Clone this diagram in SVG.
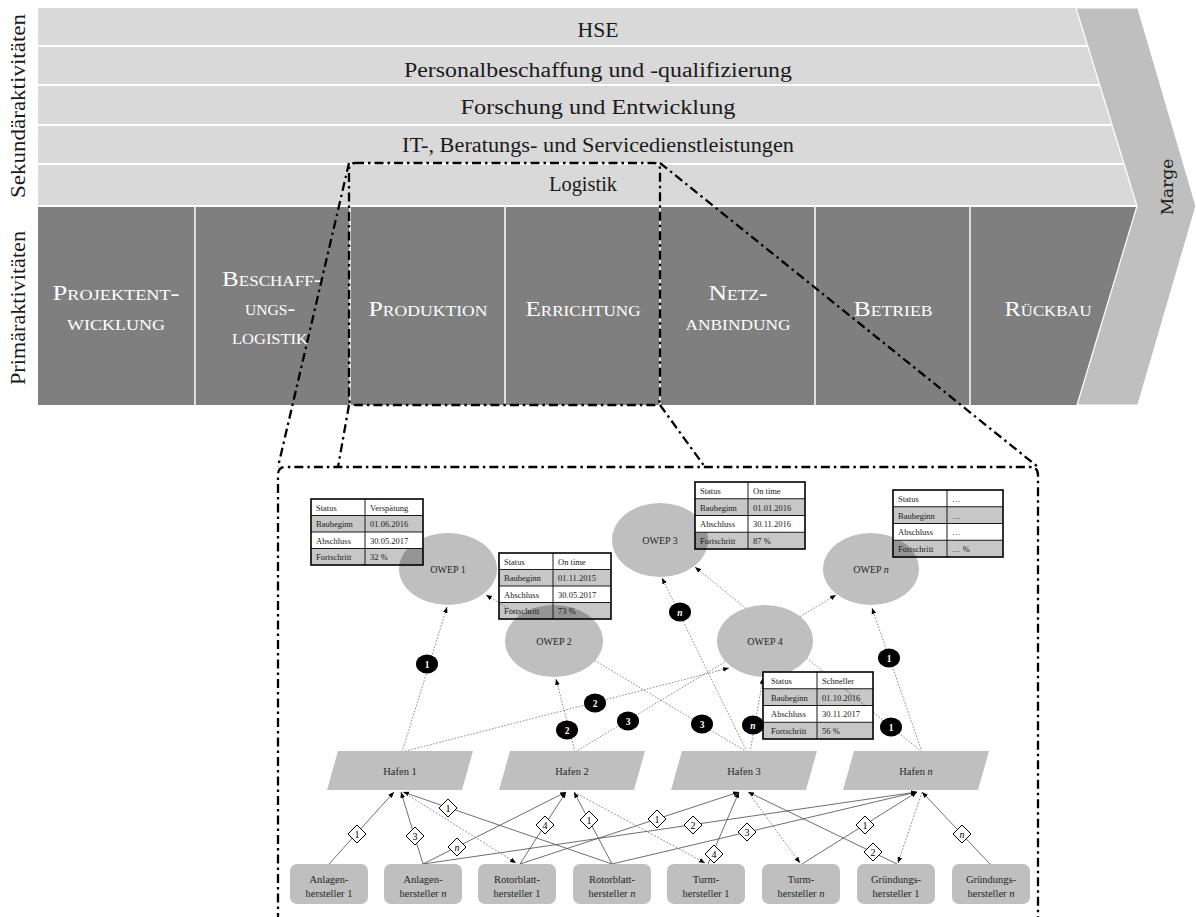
<svg xmlns="http://www.w3.org/2000/svg" width="1196" height="917" viewBox="0 0 1196 917">
  <style>
    .sec { font-family: "Liberation Serif", serif; font-size: 20px; fill: #1a1a1a; text-anchor: middle; }
    .side { font-family: "Liberation Serif", serif; font-size: 20px; fill: #1a1a1a; text-anchor: middle; }
    .prim { font-family: "Liberation Serif", serif; font-size: 22px; fill: #ffffff; text-anchor: middle; font-variant: small-caps; }
    .zoom { fill: none; stroke: #000; stroke-width: 2.3; stroke-dasharray: 9 4 2.5 4; }
    .flow { fill: none; stroke: #6e6e6e; stroke-width: 0.8; stroke-dasharray: 1.6 1.6; }
    .sup { fill: none; stroke: #4a4a4a; stroke-width: 0.8; }
    .ret { fill: none; stroke: #7a7a7a; stroke-width: 0.8; stroke-dasharray: 2 1.5; }
    .owep { fill: #bfbfbf; }
    .lbl { font-family: "Liberation Serif", serif; font-size: 10px; fill: #262626; text-anchor: middle; }
    .nlbl { font-family: "Liberation Serif", serif; font-size: 10.5px; fill: #262626; text-anchor: middle; }
    .badge { fill: #000; }
    .btxt { font-family: "Liberation Serif", serif; font-size: 9.5px; fill: #fff; text-anchor: middle; font-weight: bold; }
    .dia { fill: #fff; stroke: #000; stroke-width: 1; }
    .dtxt { font-family: "Liberation Serif", serif; font-size: 10px; fill: #000; text-anchor: middle; }
    .cellw { fill: #fff; }
    .cellg { fill: #000; fill-opacity: 0.22; }
    .grid { fill: none; stroke: #1a1a1a; stroke-width: 1; }
    .frame { fill: none; stroke: #000; stroke-width: 1.6; }
    .ttxt { font-family: "Liberation Serif", serif; font-size: 8.5px; fill: #1a1a1a; }
    .box { fill: #bfbfbf; }
  </style>
  <defs>
    <marker id="arr" viewBox="0 0 10 10" refX="10" refY="5" markerWidth="6" markerHeight="6" markerUnits="userSpaceOnUse" orient="auto">
      <path d="M0,1 L10,5 L0,9 Z" fill="#000"/>
    </marker>
    <path id="diamond" d="M0,-9 L9,0 L0,9 L-9,0 Z"/>
    <ellipse id="dot" rx="11" ry="9.5"/>
  </defs>

  <rect width="1196" height="917" fill="#fff"/>

  <!-- value chain: support activities -->
  <g id="secondary">
    <polygon points="38,8 1076,8 1137,206 38,206" fill="#d9d9d9"/>
    <g stroke="#fff" stroke-width="2">
      <line x1="38" y1="46" x2="1090" y2="46"/>
      <line x1="38" y1="85" x2="1102" y2="85"/>
      <line x1="38" y1="125" x2="1115" y2="125"/>
      <line x1="38" y1="164" x2="1127" y2="164"/>
    </g>
    <text class="sec" x="598" y="37" textLength="41" lengthAdjust="spacingAndGlyphs">HSE</text>
    <text class="sec" x="598" y="77" textLength="388" lengthAdjust="spacingAndGlyphs">Personalbeschaffung und -qualifizierung</text>
    <text class="sec" x="598" y="114" textLength="275" lengthAdjust="spacingAndGlyphs">Forschung und Entwicklung</text>
    <text class="sec" x="598" y="152" textLength="392" lengthAdjust="spacingAndGlyphs">IT-, Beratungs- und Servicedienstleistungen</text>
    <text class="sec" x="583" y="191" textLength="68" lengthAdjust="spacingAndGlyphs">Logistik</text>
  </g>

  <!-- value chain: primary activities -->
  <g id="primary">
    <polygon points="38,207 1137,207 1077,405 38,405" fill="#7f7f7f"/>
    <line x1="38" y1="206" x2="1137" y2="206" stroke="#fff" stroke-width="2"/>
    <g stroke="#fff" stroke-width="1.5">
      <line x1="195" y1="207" x2="195" y2="405"/>
      <line x1="350" y1="207" x2="350" y2="405"/>
      <line x1="505" y1="207" x2="505" y2="405"/>
      <line x1="660" y1="207" x2="660" y2="405"/>
      <line x1="815" y1="207" x2="815" y2="405"/>
      <line x1="970" y1="207" x2="970" y2="405"/>
    </g>
    <text class="prim" x="116" y="300" textLength="127" lengthAdjust="spacingAndGlyphs">Projektent-</text>
    <text class="prim" x="116" y="330" textLength="98" lengthAdjust="spacingAndGlyphs">wicklung</text>
    <text class="prim" x="272" y="286" textLength="100" lengthAdjust="spacingAndGlyphs">Beschaff-</text>
    <text class="prim" x="270" y="315" textLength="50" lengthAdjust="spacingAndGlyphs">ungs-</text>
    <text class="prim" x="270" y="344" textLength="76" lengthAdjust="spacingAndGlyphs">logistik</text>
    <text class="prim" x="428" y="316" textLength="119" lengthAdjust="spacingAndGlyphs">Produktion</text>
    <text class="prim" x="583" y="316" textLength="115" lengthAdjust="spacingAndGlyphs">Errichtung</text>
    <text class="prim" x="738" y="300" textLength="59" lengthAdjust="spacingAndGlyphs">Netz-</text>
    <text class="prim" x="738" y="330" textLength="105" lengthAdjust="spacingAndGlyphs">anbindung</text>
    <text class="prim" x="893" y="316" textLength="79" lengthAdjust="spacingAndGlyphs">Betrieb</text>
    <text class="prim" x="1048" y="316" textLength="87" lengthAdjust="spacingAndGlyphs">Rückbau</text>
  </g>

  <!-- margin chevron -->
  <g id="marge">
    <polygon points="1076,8 1138,8 1196,206 1138,405 1077,405 1137,206" fill="#bfbfbf" stroke="#fff" stroke-width="1.2"/>
    <text transform="translate(1173,187) rotate(-90)" font-family="DejaVu Serif, serif" font-size="17" fill="#1a1a1a" text-anchor="middle">Marge</text>
  </g>

  <!-- row captions -->
  <g id="captions">
    <text class="side" transform="translate(25,106) rotate(-90)" textLength="184" lengthAdjust="spacingAndGlyphs">Sekundäraktivitäten</text>
    <text class="side" transform="translate(25,308) rotate(-90)" textLength="154" lengthAdjust="spacingAndGlyphs">Primäraktivitäten</text>
  </g>

  <!-- magnifier frame -->
  <g id="zoom-frame">
    <rect class="zoom" x="349" y="163" width="311" height="242" rx="6"/>
    <path class="zoom" d="M278,922 V475 Q278,467 286,467 H1030 Q1038,467 1038,475 V922"/>
    <path class="zoom" d="M349,163 L278,467"/>
    <path class="zoom" d="M349,405 L338,467"/>
    <path class="zoom" d="M660,163 L1038,467"/>
    <path class="zoom" d="M660,405 L705,467"/>
  </g>

  <!-- connectors -->
  <g id="connectors">
    <!-- supplier to port -->
    <path class="sup" d="M329,864 L394,792" marker-end="url(#arr)"/>
    <path class="sup" d="M423,864 L401,792" marker-end="url(#arr)"/>
    <path class="sup" d="M423,864 L566,792" marker-end="url(#arr)"/>
    <path class="sup" d="M423,864 L917,792" marker-end="url(#arr)"/>
    <path class="sup" d="M612,864 L403,792" marker-end="url(#arr)"/>
    <path class="sup" d="M520,864 L566,792" marker-end="url(#arr)"/>
    <path class="sup" d="M520,864 L739,792" marker-end="url(#arr)"/>
    <path class="sup" d="M612,864 L574,792" marker-end="url(#arr)"/>
    <path class="sup" d="M708,864 L739,792" marker-end="url(#arr)"/>
    <path class="sup" d="M612,864 L917,792" marker-end="url(#arr)"/>
    <path class="sup" d="M802,864 L917,792" marker-end="url(#arr)"/>
    <path class="sup" d="M897,864 L748,792" marker-end="url(#arr)"/>
    <path class="sup" d="M990,864 L922,792" marker-end="url(#arr)"/>
    <!-- port back to supplier -->
    <path class="ret" d="M403,792 L516,863" marker-end="url(#arr)"/>
    <path class="ret" d="M574,792 L705,863" marker-end="url(#arr)"/>
    <path class="ret" d="M748,792 L800,863" marker-end="url(#arr)"/>
    <path class="ret" d="M922,792 L898,863" marker-end="url(#arr)"/>

    <!-- quantity diamonds -->
    <g class="dia">
      <use href="#diamond" x="357" y="834"/>
      <use href="#diamond" x="415" y="836"/>
      <use href="#diamond" x="457" y="847"/>
      <use href="#diamond" x="448" y="808"/>
      <use href="#diamond" x="545" y="825"/>
      <use href="#diamond" x="589" y="820"/>
      <use href="#diamond" x="657" y="819"/>
      <use href="#diamond" x="693" y="825"/>
      <use href="#diamond" x="714" y="854"/>
      <use href="#diamond" x="747" y="832"/>
      <use href="#diamond" x="865" y="825"/>
      <use href="#diamond" x="873" y="852"/>
      <use href="#diamond" x="962" y="834"/>
    </g>
    <g class="dtxt">
      <text x="357" y="837.5">1</text>
      <text x="415" y="839.5">3</text>
      <text x="457" y="850.5" font-style="italic">n</text>
      <text x="448" y="811.5">1</text>
      <text x="545" y="828.5">4</text>
      <text x="589" y="823.5">1</text>
      <text x="657" y="822.5">1</text>
      <text x="693" y="828.5">2</text>
      <text x="714" y="857.5">4</text>
      <text x="747" y="835.5">3</text>
      <text x="865" y="828.5">1</text>
      <text x="873" y="855.5">2</text>
      <text x="962" y="837.5" font-style="italic">n</text>
    </g>

    <!-- port to wind farm -->
    <path class="flow" d="M402,752 L447,607" marker-end="url(#arr)"/>
    <path class="flow" d="M402,752 L729,668" marker-end="url(#arr)"/>
    <path class="flow" d="M575,752 L556,679" marker-end="url(#arr)"/>
    <path class="flow" d="M575,752 L836,595" marker-end="url(#arr)"/>
    <path class="flow" d="M747,752 L486,595" marker-end="url(#arr)"/>
    <path class="flow" d="M747,752 L662,578" marker-end="url(#arr)"/>
    <path class="flow" d="M750,752 L763,678" marker-end="url(#arr)"/>
    <path class="flow" d="M922,752 L695,567" marker-end="url(#arr)"/>
    <path class="flow" d="M922,752 L872,608" marker-end="url(#arr)"/>

    <!-- delivery counts -->
    <g class="badge">
      <use href="#dot" x="427" y="664"/>
      <use href="#dot" x="595" y="703"/>
      <use href="#dot" x="567" y="730"/>
      <use href="#dot" x="628" y="721"/>
      <use href="#dot" x="702" y="724"/>
      <use href="#dot" x="680" y="612"/>
      <use href="#dot" x="753" y="725"/>
      <use href="#dot" x="891" y="727"/>
      <use href="#dot" x="889" y="658"/>
    </g>
    <g class="btxt">
      <text x="427" y="667.5">1</text>
      <text x="595" y="706.5">2</text>
      <text x="567" y="733.5">2</text>
      <text x="628" y="724.5">3</text>
      <text x="702" y="727.5">3</text>
      <text x="680" y="615.5" font-style="italic">n</text>
      <text x="753" y="728.5" font-style="italic">n</text>
      <text x="891" y="730.5">1</text>
      <text x="889" y="661.5">1</text>
    </g>
  </g>

  <!-- offshore wind farms -->
  <g id="owep1"><ellipse class="owep" cx="448" cy="569" rx="49" ry="36"/><text class="lbl" x="448" y="572.5">OWEP 1</text></g>
  <g id="owep2"><ellipse class="owep" cx="554" cy="641" rx="49" ry="36"/><text class="lbl" x="554" y="644.5">OWEP 2</text></g>
  <g id="owep3"><ellipse class="owep" cx="660" cy="540" rx="48" ry="37"/><text class="lbl" x="660" y="543.5">OWEP 3</text></g>
  <g id="owep4"><ellipse class="owep" cx="765" cy="641" rx="48" ry="36"/><text class="lbl" x="765" y="644.5">OWEP 4</text></g>
  <g id="owepn"><ellipse class="owep" cx="871" cy="569" rx="48" ry="36"/><text class="lbl" x="871" y="572.5">OWEP <tspan font-style="italic">n</tspan></text></g>

  <!-- status tables -->
  <g id="status-owep1" transform="translate(311,499)">
    <rect class="cellw" x="0" y="0" width="112" height="16.5"/>
    <rect class="cellg" x="0" y="16.5" width="112" height="16.5"/>
    <rect class="cellw" x="0" y="33" width="112" height="16.5"/>
    <rect class="cellg" x="0" y="49.5" width="112" height="16.5"/>
    <path class="grid" d="M0,16.5 H112 M0,33 H112 M0,49.5 H112 M54,0 V66"/>
    <rect class="frame" x="0" y="0" width="112" height="66"/>
    <g class="ttxt">
      <text x="5" y="11.5">Status</text><text x="59" y="11.5">Verspätung</text>
      <text x="5" y="28">Baubeginn</text><text x="59" y="28">01.06.2016</text>
      <text x="5" y="44.5">Abschluss</text><text x="59" y="44.5">30.05.2017</text>
      <text x="5" y="61">Fortschritt</text><text x="59" y="61">32 %</text>
    </g>
  </g>
  <g id="status-owep2" transform="translate(499,553)">
    <rect class="cellw" x="0" y="0" width="112" height="16.5"/>
    <rect class="cellg" x="0" y="16.5" width="112" height="16.5"/>
    <rect class="cellw" x="0" y="33" width="112" height="16.5"/>
    <rect class="cellg" x="0" y="49.5" width="112" height="16.5"/>
    <path class="grid" d="M0,16.5 H112 M0,33 H112 M0,49.5 H112 M54,0 V66"/>
    <rect class="frame" x="0" y="0" width="112" height="66"/>
    <g class="ttxt">
      <text x="5" y="11.5">Status</text><text x="59" y="11.5">On time</text>
      <text x="5" y="28">Baubeginn</text><text x="59" y="28">01.11.2015</text>
      <text x="5" y="44.5">Abschluss</text><text x="59" y="44.5">30.05.2017</text>
      <text x="5" y="61">Fortschritt</text><text x="59" y="61">73 %</text>
    </g>
  </g>
  <g id="status-owep3" transform="translate(695,482)">
    <rect class="cellw" x="0" y="0" width="110" height="16.75"/>
    <rect class="cellg" x="0" y="16.75" width="110" height="16.75"/>
    <rect class="cellw" x="0" y="33.5" width="110" height="16.75"/>
    <rect class="cellg" x="0" y="50.25" width="110" height="16.75"/>
    <path class="grid" d="M0,16.75 H110 M0,33.5 H110 M0,50.25 H110 M53,0 V67"/>
    <rect class="frame" x="0" y="0" width="110" height="67"/>
    <g class="ttxt">
      <text x="5" y="11.5">Status</text><text x="58" y="11.5">On time</text>
      <text x="5" y="28.5">Baubeginn</text><text x="58" y="28.5">01.01.2016</text>
      <text x="5" y="45">Abschluss</text><text x="58" y="45">30.11.2016</text>
      <text x="5" y="62">Fortschritt</text><text x="58" y="62">87 %</text>
    </g>
  </g>
  <g id="status-owepn" transform="translate(893,490)">
    <rect class="cellw" x="0" y="0" width="110" height="16.75"/>
    <rect class="cellg" x="0" y="16.75" width="110" height="16.75"/>
    <rect class="cellw" x="0" y="33.5" width="110" height="16.75"/>
    <rect class="cellg" x="0" y="50.25" width="110" height="16.75"/>
    <path class="grid" d="M0,16.75 H110 M0,33.5 H110 M0,50.25 H110 M54,0 V67"/>
    <rect class="frame" x="0" y="0" width="110" height="67"/>
    <g class="ttxt">
      <text x="5" y="11.5">Status</text><text x="59" y="11.5">…</text>
      <text x="5" y="28.5">Baubeginn</text><text x="59" y="28.5">…</text>
      <text x="5" y="45">Abschluss</text><text x="59" y="45">…</text>
      <text x="5" y="62">Fortschritt</text><text x="59" y="62">… %</text>
    </g>
  </g>
  <g id="status-owep4" transform="translate(763,672)">
    <rect class="cellw" x="0" y="0" width="110" height="16.75"/>
    <rect class="cellg" x="0" y="16.75" width="110" height="16.75"/>
    <rect class="cellw" x="0" y="33.5" width="110" height="16.75"/>
    <rect class="cellg" x="0" y="50.25" width="110" height="16.75"/>
    <path class="grid" d="M0,16.75 H110 M0,33.5 H110 M0,50.25 H110 M54,0 V67"/>
    <rect class="frame" x="0" y="0" width="110" height="67"/>
    <g class="ttxt">
      <text x="8" y="11.5">Status</text><text x="59" y="11.5">Schneller</text>
      <text x="8" y="28.5">Baubeginn</text><text x="59" y="28.5">01.10.2016</text>
      <text x="8" y="45">Abschluss</text><text x="59" y="45">30.11.2017</text>
      <text x="8" y="62">Fortschritt</text><text x="59" y="62">56 %</text>
    </g>
  </g>

  <!-- ports -->
  <g id="hafen1"><polygon class="box" points="338,751 473,751 462,790 327,790"/><text class="nlbl" x="400" y="775">Hafen 1</text></g>
  <g id="hafen2"><polygon class="box" points="510,751 645,751 634,790 499,790"/><text class="nlbl" x="572" y="775">Hafen 2</text></g>
  <g id="hafen3"><polygon class="box" points="682,751 817,751 806,790 671,790"/><text class="nlbl" x="744" y="775">Hafen 3</text></g>
  <g id="hafenn"><polygon class="box" points="854,751 989,751 978,790 843,790"/><text class="nlbl" x="916" y="775">Hafen <tspan font-style="italic">n</tspan></text></g>

  <!-- suppliers -->
  <g id="anlagen1"><rect class="box" x="290" y="864" width="78" height="40" rx="7"/><text class="nlbl" x="329" y="882.5">Anlagen-</text><text class="nlbl" x="329" y="896.5">hersteller 1</text></g>
  <g id="anlagenn"><rect class="box" x="384" y="864" width="78" height="40" rx="7"/><text class="nlbl" x="423" y="882.5">Anlagen-</text><text class="nlbl" x="423" y="896.5">hersteller <tspan font-style="italic">n</tspan></text></g>
  <g id="rotor1"><rect class="box" x="478" y="864" width="78" height="40" rx="7"/><text class="nlbl" x="517" y="882.5">Rotorblatt-</text><text class="nlbl" x="517" y="896.5">hersteller 1</text></g>
  <g id="rotorn"><rect class="box" x="573" y="864" width="78" height="40" rx="7"/><text class="nlbl" x="612" y="882.5">Rotorblatt-</text><text class="nlbl" x="612" y="896.5">hersteller <tspan font-style="italic">n</tspan></text></g>
  <g id="turm1"><rect class="box" x="667" y="864" width="78" height="40" rx="7"/><text class="nlbl" x="706" y="882.5">Turm-</text><text class="nlbl" x="706" y="896.5">hersteller 1</text></g>
  <g id="turmn"><rect class="box" x="762" y="864" width="78" height="40" rx="7"/><text class="nlbl" x="801" y="882.5">Turm-</text><text class="nlbl" x="801" y="896.5">hersteller <tspan font-style="italic">n</tspan></text></g>
  <g id="gruendung1"><rect class="box" x="857" y="864" width="78" height="40" rx="7"/><text class="nlbl" x="896" y="882.5">Gründungs-</text><text class="nlbl" x="896" y="896.5">hersteller 1</text></g>
  <g id="gruendungn"><rect class="box" x="952" y="864" width="78" height="40" rx="7"/><text class="nlbl" x="991" y="882.5">Gründungs-</text><text class="nlbl" x="991" y="896.5">hersteller <tspan font-style="italic">n</tspan></text></g>
</svg>
